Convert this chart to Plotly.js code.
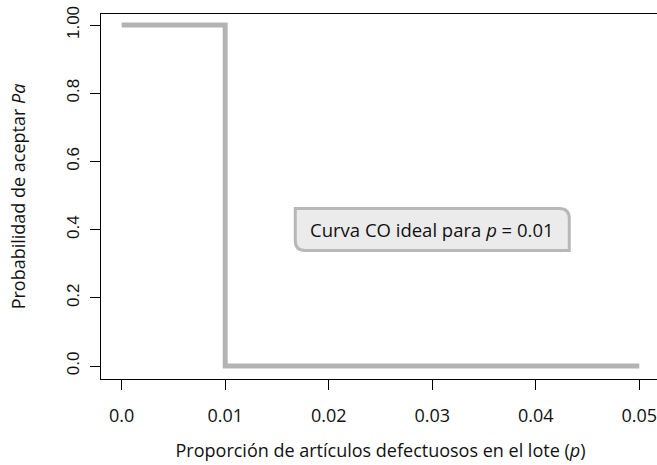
<!DOCTYPE html>
<html>
<head>
<meta charset="utf-8">
<script src="https://cdn.plot.ly/plotly-3.0.1.min.js"></script>
<style>
html,body{margin:0;padding:0;overflow:hidden;background:#fff;}
#chart{width:662px;height:465px;}
</style>
</head>
<body>
<div id="chart"></div>
<script>
// Ideal OC curve for p = 0.01
const pValues = [0, 0.01, 0.01, 0.05];
const paValues = [1, 1, 0, 0];
const xTickVals = [0, 0.01, 0.02, 0.03, 0.04, 0.05];
const xTickText = ['0.0', '0.01', '0.02', '0.03', '0.04', '0.05'];
const yTickVals = [0, 0.2, 0.4, 0.6, 0.8, 1.0];
const yTickText = ['0.0', '0.2', '0.4', '0.6', '0.8', '1.00'];
const labelText = 'Curva CO ideal para <i>p</i> = 0.01';
const labelPos = [0.03, 0.4];

const humanist = '"Open Sans", "Noto Sans", sans-serif';

const trace = {
  x: pValues, y: paValues, type: 'scatter', mode: 'lines',
  line: {color: '#b3b3b3', width: 5, shape: 'linear'},
  hoverinfo: 'skip', showlegend: false
};

const layout = {
  width: 662, height: 465,
  margin: {l: 101, r: 2, t: 14, b: 86},
  paper_bgcolor: '#ffffff', plot_bgcolor: '#ffffff',
  showlegend: false,
  xaxis: {
    range: [-0.002, 0.052], tickmode: 'array', tickvals: xTickVals, ticktext: xTickText,
    showgrid: false, zeroline: false, showline: true, mirror: true,
    linecolor: '#000', linewidth: 1,
    ticks: 'outside', ticklen: 10, tickcolor: '#000', tickwidth: 1,
    ticklabelstandoff: 10,
    tickfont: {family: humanist, size: 18, color: '#111'},
    title: {text: 'Proporción de artículos defectuosos en el lote (<i>p</i>)',
            font: {family: humanist, size: 18, color: '#111'}, standoff: 18}
  },
  yaxis: {
    range: [-0.0381, 1.0323], tickmode: 'array', tickvals: yTickVals, ticktext: yTickText,
    showgrid: false, zeroline: false, showline: true, mirror: true,
    linecolor: '#000', linewidth: 1,
    ticks: 'outside', ticklen: 10, tickcolor: '#000', tickwidth: 1,
    tickangle: -90,
    ticklabelstandoff: 4,
    tickfont: {family: 'Liberation Sans, Arial, sans-serif', size: 17, color: '#111'},
    title: {text: 'Probabilidad de aceptar <i>Pa</i>',
            font: {family: humanist, size: 18, color: '#111'}, standoff: 33}
  },
  shapes: [{
    type: 'path', xref: 'x', yref: 'y',
    xsizemode: 'pixel', ysizemode: 'pixel',
    xanchor: labelPos[0], yanchor: labelPos[1],
    path: 'M -137,21 L 127,21 Q 137,21 137,11 L 137,-21 L -127,-21 Q -137,-21 -137,-11 Z',
    fillcolor: '#ebebeb', line: {color: '#b8b8b8', width: 3}, layer: 'above'
  }],
  annotations: [{
    x: labelPos[0], y: labelPos[1], xref: 'x', yref: 'y',
    text: labelText, showarrow: false,
    font: {family: humanist, size: 18.5, color: '#111'}
  }]
};

Plotly.newPlot('chart', [trace], layout, {displayModeBar: false, staticPlot: true});
</script>
</body>
</html>
